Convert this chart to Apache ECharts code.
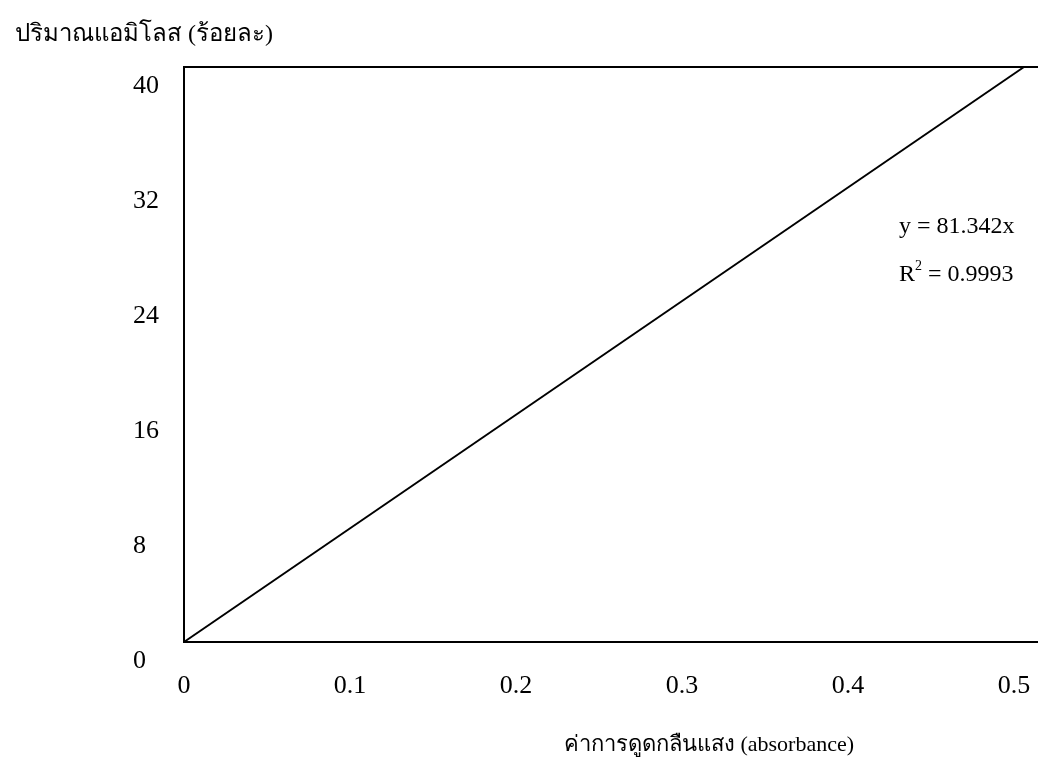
<!DOCTYPE html>
<html>
<head>
<meta charset="utf-8">
<script src="https://cdn.jsdelivr.net/npm/echarts@6/dist/echarts.min.js"></script>
<style>
  html, body { margin: 0; padding: 0; background: #fff; }
  #amylose_chart { width: 1038px; height: 772px; }
</style>
</head>
<body>
<div id="amylose_chart"></div>
<script>
// values
var absorbance = [0, 0.506];
var amylose = [0, 40];
var yTicks = [0, 8, 16, 24, 32, 40];
var xTicks = [0, 0.1, 0.2, 0.3, 0.4, 0.5];
var equation = 'y = 81.342x';
var rSquared = '0.9993';

var serif = "'Liberation Serif', 'Times New Roman', 'Noto Sans', serif";

var chartAmylose = echarts.init(document.getElementById('amylose_chart'));

var points = [];
for (var i = 0; i < absorbance.length; i++) {
    points.push([absorbance[i], amylose[i]]);
}

option = {
    backgroundColor: '#fff',
    animation: false,
    title: {
        text: 'ปริมาณแอมิโลส (ร้อยละ)',
        left: 10,
        top: 18,
        textStyle: {
            fontFamily: serif,
            fontWeight: 'normal',
            fontSize: 24,
            color: '#000'
        }
    },
    grid: {
        left: 184,
        top: 67,
        height: 575,
        width: 996,
        outerBoundsMode: 'none',
        containLabel: false,
        show: true,
        borderColor: '#000',
        borderWidth: 2
    },
    xAxis: {
        type: 'value',
        min: 0,
        max: 0.6,
        interval: 0.1,
        name: 'ค่าการดูดกลืนแสง (absorbance)',
        nameLocation: 'middle',
        nameGap: 92,
        nameTextStyle: {
            fontFamily: serif,
            fontSize: 22,
            color: '#000',
            padding: [0, 0, 0, 54]
        },
        axisLine: { lineStyle: { color: '#000', width: 2 } },
        axisTick: { show: false },
        splitLine: { show: false },
        axisLabel: {
            margin: 31,
            fontFamily: serif,
            fontSize: 26,
            color: '#000',
            formatter: function (v) {
                var r = Math.round(v * 10) / 10;
                return xTicks.indexOf(r) >= 0 ? String(r) : '';
            }
        }
    },
    yAxis: {
        type: 'value',
        min: 0,
        max: 40,
        interval: 8,
        axisLine: { lineStyle: { color: '#000', width: 2 } },
        axisTick: { show: false },
        splitLine: { show: false },
        axisLabel: {
            margin: 51,
            align: 'left',
            verticalAlign: 'top',
            lineHeight: 38,
            fontFamily: serif,
            fontSize: 26,
            color: '#000',
            formatter: function (v) {
                return yTicks.indexOf(v) >= 0 ? String(v) : '';
            }
        }
    },
    graphic: [
        {
            type: 'text',
            left: 899,
            top: 215,
            style: {
                text: equation,
                font: '24px ' + serif,
                fill: '#000'
            }
        },
        {
            type: 'text',
            left: 899,
            top: 259,
            style: {
                text: '{b|R}{s|2}{b| = ' + rSquared + '}',
                rich: {
                    b: { fontFamily: serif, fontSize: 24, color: '#000', verticalAlign: 'bottom' },
                    s: { fontFamily: serif, fontSize: 14, color: '#000', verticalAlign: 'top', padding: [0, 0, 14, 0] }
                }
            }
        }
    ],
    series: [
        {
            name: 'amylose',
            type: 'line',
            data: points,
            symbol: 'none',
            clip: true,
            lineStyle: { color: '#000', width: 2 }
        }
    ]
};

chartAmylose.setOption(option);

window.addEventListener('resize', function () {
    chartAmylose.resize();
});
</script>
</body>
</html>
